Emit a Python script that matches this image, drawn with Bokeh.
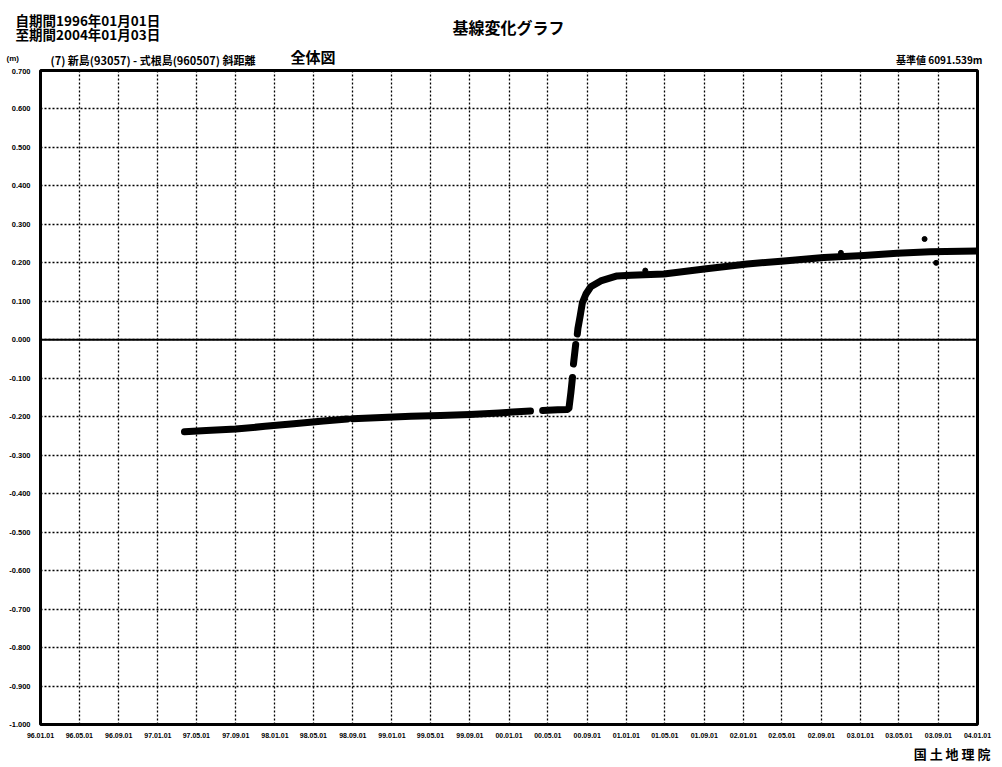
import pandas as pd
from bokeh.plotting import figure
from bokeh.layouts import column
from bokeh.models import (Range1d, FixedTicker, Span, Label, DatetimeTickFormatter,
                          PrintfTickFormatter, ColumnDataSource)
from bokeh.embed import file_html
from bokeh.resources import INLINE

# ---------------- data ----------------
x_tick_dates = ["1996-01-01", "1996-05-01", "1996-09-01", "1997-01-01", "1997-05-01",
                "1997-09-01", "1998-01-01", "1998-05-01", "1998-09-01", "1999-01-01",
                "1999-05-01", "1999-09-01", "2000-01-01", "2000-05-01", "2000-09-01",
                "2001-01-01", "2001-05-01", "2001-09-01", "2002-01-01", "2002-05-01",
                "2002-09-01", "2003-01-01", "2003-05-01", "2003-09-01", "2004-01-01"]
y_ticks = [-1.0, -0.9, -0.8, -0.7, -0.6, -0.5, -0.4, -0.3, -0.2, -0.1,
           0.0, 0.1, 0.2, 0.3, 0.4, 0.5, 0.6, 0.7]

NAN = float("nan")
# baseline change (m); NaN marks a gap in observations
obs_dates = ["1997-03-25", "1997-06-01", "1997-09-01", "1997-12-01", "1998-03-01",
             "1998-06-01", "1998-08-15",
             "1998-08-22",
             "1998-08-31", "1998-12-01", "1999-03-01", "1999-06-01", "1999-09-01",
             "1999-12-01", "2000-03-08",
             "2000-03-25",
             "2000-04-15", "2000-06-01", "2000-07-01", "2000-07-06", "2000-07-12",
             "2000-07-17",
             "2000-07-18",
             "2000-07-20", "2000-07-27",
             "2000-07-29",
             "2000-08-01", "2000-08-03", "2000-08-10", "2000-08-17", "2000-08-28",
             "2000-09-12", "2000-10-13", "2000-12-03", "2001-01-15", "2001-04-28",
             "2001-09-01", "2002-01-13", "2002-05-08", "2002-09-09", "2003-01-11",
             "2003-04-25", "2003-08-06", "2004-01-01"]
obs_values = [-0.239, -0.236, -0.232, -0.225, -0.218,
              -0.211, -0.206,
              NAN,
              -0.205, -0.202, -0.199, -0.197, -0.194,
              -0.190, -0.185,
              NAN,
              -0.184, -0.182, -0.181, -0.178, -0.137,
              -0.098,
              NAN,
              -0.063, -0.012,
              NAN,
              0.015, 0.030, 0.062, 0.097, 0.119,
              0.138, 0.153, 0.166, 0.168, 0.171,
              0.184, 0.197, 0.205, 0.214, 0.219,
              0.225, 0.229, 0.231]

outlier_dates = ["2003-07-20", "2003-08-25", "2001-03-01", "2002-11-01"]
outlier_values = [0.262, 0.200, 0.180, 0.226]

title_text = "基線変化グラフ"
period_from = "自期間1996年01月01日"
period_to = "至期間2004年01月03日"
unit_text = "(m)"
baseline_text = "(7) 新島(93057) - 式根島(960507) 斜距離"
whole_text = "全体図"
ref_text = "基準値 6091.539m"
agency_text = "国 土 地 理 院"

JP = "Noto Sans CJK JP"
W = 1000


def ms(s):
    return pd.Timestamp(s).value / 1e6


def text_fig(height):
    f = figure(width=W, height=height, x_range=Range1d(0, W), y_range=Range1d(0, height),
               output_backend="svg", toolbar_location=None,
               x_axis_location=None, y_axis_location=None,
               min_border=0, min_border_left=0, min_border_right=0,
               min_border_top=0, min_border_bottom=0)
    f.frame_align = False
    f.outline_line_color = None
    f.xgrid.visible = False
    f.ygrid.visible = False
    f.background_fill_color = "white"
    f.border_fill_color = "white"
    return f


def lab(f, x, y, text, size, align="left", baseline="alphabetic", font=JP):
    f.add_layout(Label(x=x, y=y, x_units="screen", y_units="screen", text=text,
                       text_font=font, text_font_style="bold",
                       text_font_size=size, text_align=align,
                       text_baseline=baseline, text_color="black"))


# ---------------- header ----------------
HH = 68
head = text_fig(HH)
lab(head, 15, HH - 9, period_from, "13.5px", baseline="top")
lab(head, 15, HH - 23, period_to, "13.5px", baseline="top")
lab(head, 508, HH - 14, title_text, "16px", align="center", baseline="top")
lab(head, 6, HH - 58, unit_text, "8px", font="Liberation Sans")
lab(head, 50, HH - 59, baseline_text, "11px")
lab(head, 290, HH - 56, whole_text, "15px")
lab(head, 982, HH - 59, ref_text, "10px", align="right")

# ---------------- main chart ----------------
p = figure(width=W, height=673, x_axis_type="datetime",
           x_range=Range1d(ms(x_tick_dates[0]), ms(x_tick_dates[-1])),
           y_range=Range1d(y_ticks[0], y_ticks[-1]),
           output_backend="svg", toolbar_location=None,
           min_border_left=40, min_border_right=23,
           min_border_top=2, min_border_bottom=17)
p.frame_align = False
p.background_fill_color = "white"
p.border_fill_color = "white"
p.outline_line_color = "black"
p.outline_line_width = 3

xt = FixedTicker(ticks=[ms(d) for d in x_tick_dates])
yt = FixedTicker(ticks=y_ticks)
p.xaxis.ticker = xt
p.yaxis.ticker = yt
fmt = "%y.%m.%d"
p.xaxis.formatter = DatetimeTickFormatter(years=fmt, months=fmt, days=fmt, hours=fmt,
                                          minutes=fmt, seconds=fmt, milliseconds=fmt,
                                          minsec=fmt, hourmin=fmt)
p.yaxis.formatter = PrintfTickFormatter(format="%.3f")
for ax in (p.xaxis[0], p.yaxis[0]):
    ax.axis_line_color = None
    ax.major_tick_line_color = None
    ax.minor_tick_line_color = None
    ax.major_tick_out = 0
    ax.major_tick_in = 0
    ax.major_label_text_font = "Liberation Sans"
    ax.major_label_text_font_style = "bold"
    ax.major_label_text_color = "black"
p.xaxis.major_label_text_font_size = "7px"
p.yaxis.major_label_text_font_size = "7.5px"
p.xaxis.major_label_standoff = 8
p.yaxis.major_label_standoff = 10

p.xgrid.ticker = xt
p.ygrid.ticker = yt
for g in (p.xgrid[0], p.ygrid[0]):
    g.grid_line_color = "black"
    g.grid_line_dash = "2 2"
    g.grid_line_width = 1.3
    g.grid_line_alpha = 1.0

p.add_layout(Span(location=0, dimension="width", line_color="black", line_width=2))

src = ColumnDataSource(dict(x=[ms(d) for d in obs_dates], y=obs_values))
p.line("x", "y", source=src, line_color="black", line_width=7,
       line_cap="round", line_join="round")
osrc = ColumnDataSource(dict(x=[ms(d) for d in outlier_dates], y=outlier_values))
p.scatter("x", "y", source=osrc, size=5, color="black")

# ---------------- footer ----------------
FH = 24
foot = text_fig(FH)
lab(foot, 990, FH / 2, agency_text, "13px", align="right", baseline="middle")

layout = column(head, p, foot, spacing=0)
open("out.html", "w").write(file_html(layout, INLINE))
